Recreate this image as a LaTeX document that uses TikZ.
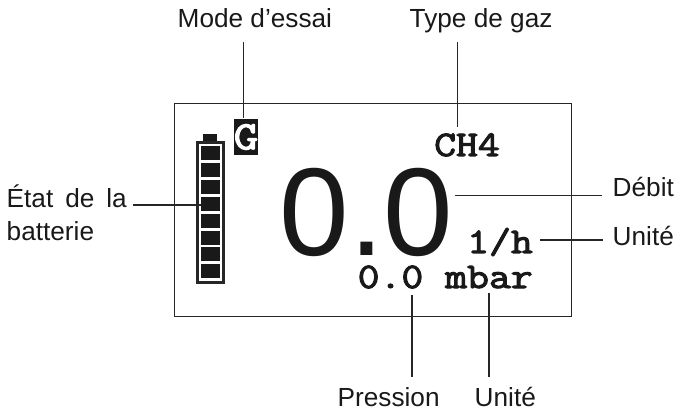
\documentclass[tikz,border=0pt]{standalone}
\usepackage{fontspec}
\setmainfont{Liberation Sans}
\newfontfamily\lcdfont[FakeBold=3,FakeStretch=1.18]{Latin Modern Mono}
\usepackage{tikz}

\tikzset{
  lbl/.style={anchor=base west,inner sep=0pt,font=\fontsize{26.2}{33}\selectfont,text=black!90},
  lcd/.style={anchor=base west,inner sep=0pt,font=\fontsize{36}{36}\selectfont\lcdfont,text=black!90},
  cell/.style={fill=black!90,draw=none}
}

\begin{document}
\begin{tikzpicture}[x=1pt,y=-1pt,line width=1.4pt,color=black!85]
\useasboundingbox (0,0) rectangle (679,411);

\draw[line width=1pt] (174,104) rectangle (571,316);

%battery
\draw[line width=3pt] (197.5,142.2) rectangle (223.5,282.5);
\fill[black!90] (203,134) rectangle (217,141);
\foreach \y in {146,163,180,197,214,231,247,264}
  \path[cell] (201,\y) rectangle (220,\y+14.5);

%display
\node[fill=black!90,minimum width=24pt,minimum height=36pt,inner sep=0pt,
  text=white,font=\fontsize{40}{40}\selectfont\lcdfont] (modebox) at (246,137) {G};
\node[lcd] (gas) at (433.5,156) {CH4};
\node[anchor=base west,inner sep=0pt,font=\fontsize{125}{125}\selectfont,text=black!90] (flow) at (279,256) {0.0};
\node[lcd] (flowunit) at (466.5,253) {1/h};
\node[lcd] (pressure) at (357,288) {0.0 mbar};

%labels
\node[lbl] (modelbl) at (177,28) {Mode d’essai};
\node[lbl] (gaslbl) at (409,28) {Type de gaz};
\node[lbl,align=left] (batlbl) at (6,241) {État\hspace{4.7pt} de\hspace{4.7pt} la\\batterie};
\node[lbl] (flowlbl) at (612,197) {Débit};
\node[lbl] (unitlbl) at (612,246) {Unité};
\node[lbl] (preslbl) at (337,406) {Pression};
\node[lbl] (unit2lbl) at (474,406) {Unité};

%leader ends
\coordinate (modeend) at (243.5,42);
\coordinate (gasend) at (457.5,42);
\coordinate (gasfoot) at (457.5,127);
\coordinate (batend) at (133,205);
\coordinate (batfoot) at (201,205);
\coordinate (flowend) at (602,195.5);
\coordinate (flowfoot) at (455,195.5);
\coordinate (unitend) at (603,240);
\coordinate (unitfoot) at (540,240);
\coordinate (presend) at (412,377);
\coordinate (presfoot) at (412,295);
\coordinate (unit2end) at (489,377);
\coordinate (unit2foot) at (489,293);

\draw (modeend) -- (modeend |- modebox.north);
\draw (gasend) -- (gasfoot);
\draw (batend) -- (batfoot);
\draw (flowend) -- (flowfoot);
\draw (unitend) -- (unitfoot);
\draw (presend) -- (presfoot);
\draw (unit2end) -- (unit2foot);
\end{tikzpicture}
\end{document}
